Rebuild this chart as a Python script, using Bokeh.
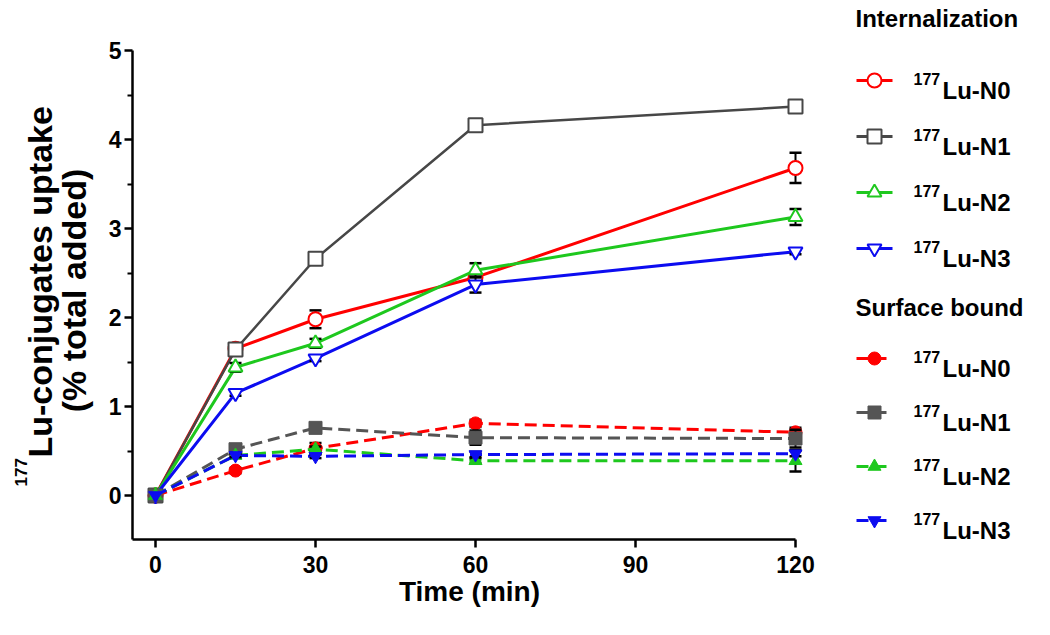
from math import pi
from bokeh.plotting import figure
from bokeh.layouts import row
from bokeh.models import Range1d, FixedTicker
from bokeh.core.properties import value
from bokeh.embed import file_html
from bokeh.resources import INLINE

# ---------------- data ----------------
time_min = [0, 15, 30, 60, 120]
series_labels = ["Lu-N0", "Lu-N1", "Lu-N2", "Lu-N3"]
isotope = "177"
x_ticks = [0, 30, 60, 90, 120]
y_ticks = [0, 1, 2, 3, 4, 5]
y_minor_ticks = [-0.5, 0.5, 1.5, 2.5, 3.5, 4.5]

# Internalization (mean, error)
int_n0 = [0, 1.65, 1.98, 2.45, 3.68]
int_n1 = [0, 1.64, 2.66, 4.16, 4.37]
int_n2 = [0, 1.44, 1.71, 2.53, 3.13]
int_n3 = [0, 1.15, 1.54, 2.37, 2.74]
int_n0_err = [0, 0.05, 0.10, 0.05, 0.17]
int_n1_err = [0, 0.03, 0.03, 0.03, 0.06]
int_n2_err = [0, 0.05, 0.05, 0.08, 0.09]
int_n3_err = [0, 0.03, 0.03, 0.09, 0.03]

# Surface bound (mean, error)
surf_n0 = [0, 0.28, 0.53, 0.81, 0.71]
surf_n1 = [0, 0.52, 0.76, 0.65, 0.64]
surf_n2 = [0, 0.45, 0.52, 0.39, 0.39]
surf_n3 = [0, 0.45, 0.44, 0.46, 0.47]
surf_n0_err = [0, 0.03, 0.06, 0.04, 0.05]
surf_n1_err = [0, 0.03, 0.03, 0.08, 0.10]
surf_n2_err = [0, 0.03, 0.03, 0.03, 0.12]
surf_n3_err = [0, 0.02, 0.02, 0.03, 0.03]

internalization = [int_n0, int_n1, int_n2, int_n3]
internalization_err = [int_n0_err, int_n1_err, int_n2_err, int_n3_err]
surface = [surf_n0, surf_n1, surf_n2, surf_n3]
surface_err = [surf_n0_err, surf_n1_err, surf_n2_err, surf_n3_err]

# ---------------- style / layout ----------------
FONT = value("Liberation Sans")
colors = ["#ff0000", "#474747", "#1ec81e", "#0c0cf0"]
surf_colors = ["#ff0000", "#555555", "#1ec81e", "#0c0cf0"]
int_widths = [3, 2.5, 3, 3]
markers = ["circle", "square", "triangle", "inverted_triangle"]
DASH = "12 6"

FIG_H = 619
YL_W = 100                 # y-title panel width
MAIN_W = 730               # main plot width
LG_W = 204                 # legend panel width
BORDER_LEFT = 32
BORDER_RIGHT = 24
BORDER_BOTTOM = 80
PX_PER_X = 160 / 30        # pixels per minute
PX_PER_Y = 89              # pixels per % unit
X0_PX, Y0_PX = 155, 495    # page pixel of the origin


def xd(px):
    return (px - X0_PX) / PX_PER_X


def yd(py):
    return (Y0_PX - py) / PX_PER_Y


frame_left = YL_W + BORDER_LEFT
frame_right = YL_W + MAIN_W - BORDER_RIGHT
frame_bottom = FIG_H - BORDER_BOTTOM

# ---------------- main plot ----------------
p = figure(width=MAIN_W, height=FIG_H,
           x_range=Range1d(xd(frame_left), xd(frame_right)),
           y_range=Range1d(yd(frame_bottom), yd(0)),
           output_backend="svg", toolbar_location=None,
           min_border_left=BORDER_LEFT, min_border_right=BORDER_RIGHT,
           min_border_top=0, min_border_bottom=BORDER_BOTTOM)
p.outline_line_color = None
p.grid.visible = False

p.xaxis.ticker = FixedTicker(ticks=x_ticks)
p.xaxis.bounds = (xd(frame_left), x_ticks[-1])
p.yaxis.ticker = FixedTicker(ticks=y_ticks, minor_ticks=y_minor_ticks)
p.yaxis.bounds = (yd(frame_bottom), y_ticks[-1])
for ax in (p.xaxis, p.yaxis):
    ax.axis_line_width = 2.5
    ax.axis_line_color = "black"
    ax.major_tick_line_width = 2.5
    ax.major_tick_line_color = "black"
    ax.major_tick_in = 0
    ax.major_tick_out = 8
    ax.minor_tick_in = 0
    ax.major_label_text_font = "Liberation Sans"
    ax.major_label_text_font_style = "bold"
    ax.major_label_text_font_size = "23px"
    ax.major_label_text_color = "black"
p.xaxis.minor_tick_line_color = None
p.yaxis.minor_tick_out = 5
p.yaxis.minor_tick_line_width = 2
p.yaxis.minor_tick_line_color = "black"
p.yaxis.major_label_standoff = 3
p.xaxis.major_label_standoff = 8
p.xaxis.axis_label = "Time (min)"
p.xaxis.axis_label_text_font = "Liberation Sans"
p.xaxis.axis_label_text_font_style = "bold"
p.xaxis.axis_label_text_font_size = "28px"
p.xaxis.axis_label_text_color = "black"
p.xaxis.axis_label_standoff = 0


def draw_errors(fig, xs, ys, es):
    xe = [x for x, e in zip(xs, es) if e > 0.011]
    lo = [y - e for y, e in zip(ys, es) if e > 0.011]
    hi = [y + e for y, e in zip(ys, es) if e > 0.011]
    fig.segment(x0=xe, y0=lo, x1=xe, y1=hi, line_color="black", line_width=2)
    fig.scatter(x=xe + xe, y=lo + hi, marker="dash", size=12,
                line_color="black", line_width=2.5)


# internalization: solid lines, open markers
for i in range(4):
    p.line(time_min, internalization[i], line_color=colors[i], line_width=int_widths[i])
    draw_errors(p, time_min, internalization[i], internalization_err[i])
    p.scatter(time_min, internalization[i], marker=markers[i], size=14,
              fill_color="white", line_color=colors[i], line_width=2)

# surface bound: dashed lines, filled markers
for i in range(4):
    p.line(time_min, surface[i], line_color=surf_colors[i], line_width=3, line_dash=DASH)
    draw_errors(p, time_min, surface[i], surface_err[i])
    p.scatter(time_min, surface[i], marker=markers[i], size=13,
              fill_color=surf_colors[i], line_color=surf_colors[i], line_width=1)

# ---------------- y-axis title panel ----------------
yl = figure(width=YL_W, height=FIG_H, x_range=Range1d(0, YL_W),
            y_range=Range1d(yd(frame_bottom), yd(0)),
            output_backend="svg", toolbar_location=None,
            x_axis_location=None, y_axis_location=None,
            min_border_left=0, min_border_right=0,
            min_border_top=0, min_border_bottom=BORDER_BOTTOM)
yl.outline_line_color = None
yl.grid.visible = False
yl.text(x=[20], y=[yd(486)], text=[isotope], angle=pi / 2, text_align="left",
        text_baseline="alphabetic", text_font=FONT, text_font_style="bold",
        text_font_size=value("17px"), text_color="black")
yl.text(x=[39], y=[yd(457)], text=["Lu-conjugates uptake"], angle=pi / 2, text_align="left",
        text_baseline="alphabetic", text_font=FONT, text_font_style="bold",
        text_font_size=value("34px"), text_color="black")
yl.text(x=[73], y=[yd(290)], text=["(% total added)"], angle=pi / 2, text_align="center",
        text_baseline="alphabetic", text_font=FONT, text_font_style="bold",
        text_font_size=value("34px"), text_color="black")

# ---------------- legend panel ----------------
lg_left = YL_W + MAIN_W
lg = figure(width=LG_W, height=FIG_H, x_range=Range1d(lg_left, lg_left + LG_W),
            y_range=Range1d(yd(frame_bottom), yd(0)),
            output_backend="svg", toolbar_location=None,
            x_axis_location=None, y_axis_location=None,
            min_border_left=0, min_border_right=0,
            min_border_top=0, min_border_bottom=BORDER_BOTTOM)
lg.outline_line_color = None
lg.grid.visible = False


def legend_block(title, title_py, first_row_py, step, dashed, filled, cols):
    lg.text(x=[855], y=[yd(title_py)], text=[title], text_align="left",
            text_baseline="middle", text_font=FONT, text_font_style="bold",
            text_font_size=value("24px"), text_color="black")
    for i in range(4):
        ry = first_row_py + step * i
        kw = dict(line_dash=DASH) if dashed else {}
        lg.line([856, 892], [yd(ry), yd(ry)], line_color=cols[i], line_width=3, **kw)
        lg.scatter([874], [yd(ry)], marker=markers[i], size=13 if filled else 14,
                   fill_color=cols[i] if filled else "white", line_color=cols[i],
                   line_width=1 if filled else 2)
        lg.text(x=[913], y=[yd(ry - 2)], text=[isotope], text_align="left",
                text_baseline="alphabetic", text_font=FONT, text_font_style="bold",
                text_font_size=value("16px"), text_color="black")
        lg.text(x=[942], y=[yd(ry + 10)], text=[series_labels[i]], text_align="left",
                text_baseline="alphabetic", text_font=FONT, text_font_style="bold",
                text_font_size=value("24px"), text_color="black")


legend_block("Internalization", 18, 80, 56, False, False, colors)
legend_block("Surface bound", 307, 358, 54, True, True, surf_colors)

layout = row(yl, p, lg)
open("out.html", "w").write(file_html(layout, INLINE))
